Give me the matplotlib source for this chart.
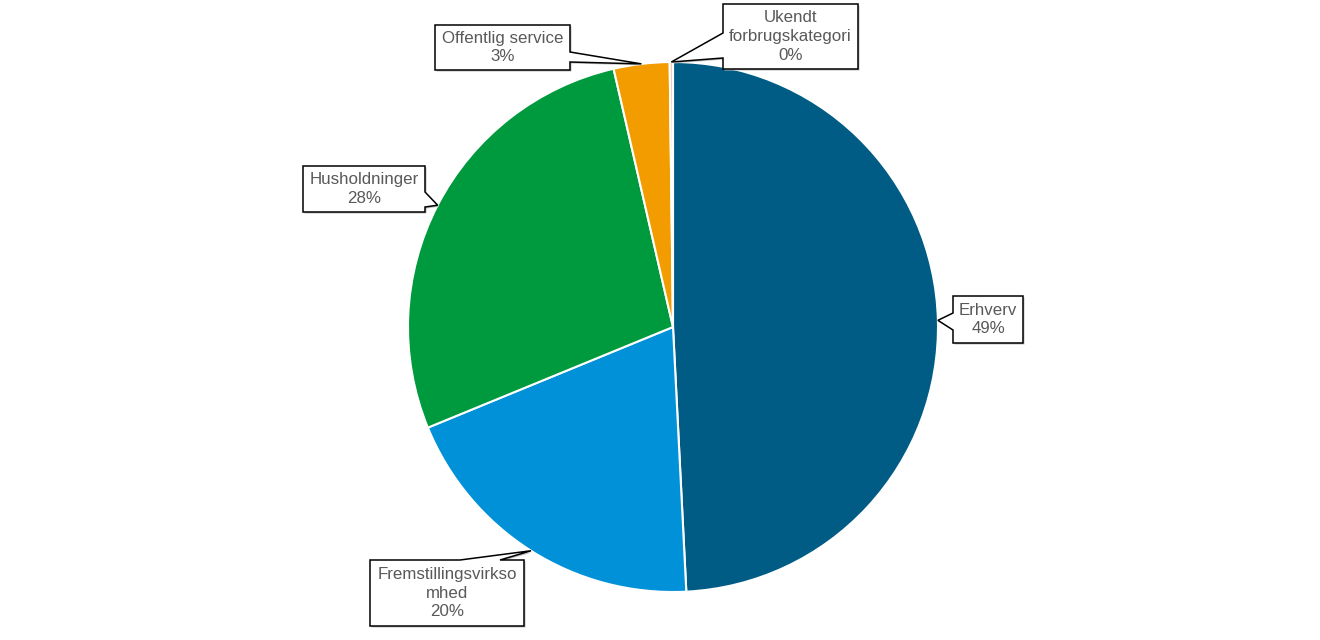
import numpy as np
import matplotlib
matplotlib.use("Agg")
import matplotlib.pyplot as plt
from matplotlib.patches import Polygon

categories = ["Erhverv", "Fremstillingsvirksomhed", "Husholdninger",
              "Offentlig service", "Ukendt forbrugskategori"]
label_lines = ["Erhverv", "Fremstillingsvirkso\nmhed", "Husholdninger",
               "Offentlig service", "Ukendt\nforbrugskategori"]
shares = [49.2, 19.6, 27.6, 3.4, 0.2]
colors = ["#005C84", "#0091D9", "#009A3E", "#F39C00", "#F4C8BE"]

W, H = 1320, 640
fig = plt.figure(figsize=(W / 100, H / 100), dpi=100)
ax = fig.add_axes([0, 0, 1, 1])
ax.set_xlim(0, W)
ax.set_ylim(0, H)
ax.set_aspect("equal")
ax.axis("off")

center = (673, H - 327)
radius = 265
wedges, _ = ax.pie(shares, colors=colors, startangle=90, counterclock=False,
                   center=center, radius=radius,
                   wedgeprops=dict(edgecolor="white", linewidth=1.5))
ax.set_xlim(0, W)
ax.set_ylim(0, H)

# callout layout: (x0, x1, ytop, ybot) in pixels from top, side, base (a, b)
layout = [
    ((953, 1023, 296, 343), "left", (313, 330)),
    ((370, 524, 560, 626), "top", (460, 500)),
    ((303, 425, 166, 212), "right", (192, 207)),
    ((435, 570, 25, 70), "right", (52, 62)),
    ((723, 858, 4, 69), "left", (33, 58)),
]

txt_color = "#595959"
for w, lab, val, (box, side, (a, b)) in zip(wedges, label_lines, shares, layout):
    mid = np.deg2rad((w.theta1 + w.theta2) / 2)
    anc = (center[0] + radius * np.cos(mid), center[1] + radius * np.sin(mid))
    x0, x1, yt, yb = box
    Yt, Yb = H - yt, H - yb
    TL, TR, BR, BL = (x0, Yt), (x1, Yt), (x1, Yb), (x0, Yb)
    if side == "top":
        verts = [TL, (a, Yt), anc, (b, Yt), TR, BR, BL]
    elif side == "right":
        verts = [TL, TR, (x1, H - a), anc, (x1, H - b), BR, BL]
    elif side == "left":
        verts = [TL, TR, BR, BL, (x0, H - b), anc, (x0, H - a)]
    else:
        verts = [TL, TR, BR, (b, Yb), anc, (a, Yb), BL]
    sh = Polygon([(vx + 1.5, vy - 1.5) for vx, vy in verts], closed=True,
                 facecolor="#bfbfbf", edgecolor="none", zorder=4)
    ax.add_patch(sh)
    poly = Polygon(verts, closed=True, facecolor="white", edgecolor="black",
                   linewidth=1.1, joinstyle="miter", zorder=5)
    ax.add_patch(poly)
    ax.text((x0 + x1) / 2, (Yt + Yb) / 2, f"{lab}\n{round(val):d}%",
            ha="center", va="center", fontsize=12.2, color=txt_color,
            family="Liberation Sans", linespacing=1.3, zorder=6)

fig.savefig("out.png", dpi=100)
